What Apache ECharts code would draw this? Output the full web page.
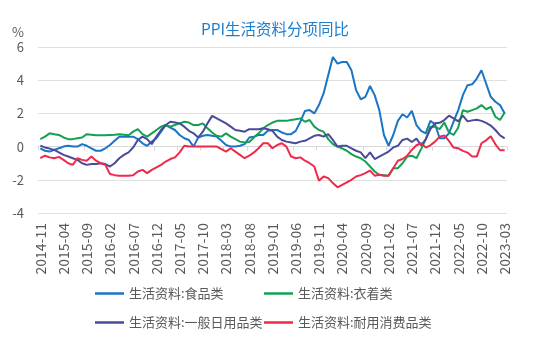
<!DOCTYPE html>
<html>
<head>
<meta charset="utf-8">
<script src="https://cdn.jsdelivr.net/npm/echarts@6/dist/echarts.min.js"></script>
<style>
html,body{margin:0;padding:0;background:#fff;}
#c{width:550px;height:343px;}
</style>
</head>
<body>
<div id="c"></div>
<script>
const categories = [
'2014-11','2014-12',
'2015-01','2015-02','2015-03','2015-04','2015-05','2015-06','2015-07','2015-08','2015-09','2015-10','2015-11','2015-12',
'2016-01','2016-02','2016-03','2016-04','2016-05','2016-06','2016-07','2016-08','2016-09','2016-10','2016-11','2016-12',
'2017-01','2017-02','2017-03','2017-04','2017-05','2017-06','2017-07','2017-08','2017-09','2017-10','2017-11','2017-12',
'2018-01','2018-02','2018-03','2018-04','2018-05','2018-06','2018-07','2018-08','2018-09','2018-10','2018-11','2018-12',
'2019-01','2019-02','2019-03','2019-04','2019-05','2019-06','2019-07','2019-08','2019-09','2019-10','2019-11','2019-12',
'2020-01','2020-02','2020-03','2020-04','2020-05','2020-06','2020-07','2020-08','2020-09','2020-10','2020-11','2020-12',
'2021-01','2021-02','2021-03','2021-04','2021-05','2021-06','2021-07','2021-08','2021-09','2021-10','2021-11','2021-12',
'2022-01','2022-02','2022-03','2022-04','2022-05','2022-06','2022-07','2022-08','2022-09','2022-10','2022-11','2022-12',
'2023-01','2023-02','2023-03'
];

const seriesNames = ['生活资料:食品类','生活资料:衣着类','生活资料:一般日用品类','生活资料:耐用消费品类'];

const food = [
-0.1,-0.25,-0.3,-0.2,-0.1,0.0,0.05,0.0,0.0,0.15,
0.05,-0.1,-0.25,-0.25,-0.1,0.1,0.35,0.6,0.6,0.6,
0.6,0.45,0.2,0.05,0.3,0.5,0.9,1.3,1.15,1.0,
0.7,0.5,0.4,0.0,0.55,0.65,0.7,0.65,0.6,0.35,
0.1,0.0,0.0,0.05,0.15,0.55,0.6,0.7,0.7,0.95,
1.0,1.0,0.85,0.75,0.75,0.95,1.5,2.15,2.2,2.0,
2.5,3.2,4.3,5.4,5.0,5.1,5.1,4.6,3.4,2.85,
3.0,3.65,3.1,2.2,0.7,0.05,0.7,1.55,1.95,1.75,
2.15,1.3,0.95,0.8,1.55,1.35,0.5,0.5,0.8,1.5,
2.2,3.1,3.7,3.75,4.1,4.6,3.8,3.0,2.7,2.5,
2.0
];

const clothing = [
0.45,0.6,0.8,0.75,0.7,0.55,0.45,0.45,0.5,0.55,
0.75,0.72,0.68,0.68,0.68,0.7,0.72,0.75,0.72,0.68,
0.9,1.05,0.75,0.6,0.8,1.0,1.2,1.3,1.2,1.3,
1.4,1.5,1.45,1.3,1.3,1.4,1.1,0.85,0.65,0.6,
0.8,0.6,0.45,0.3,0.25,0.28,0.55,0.8,1.1,1.3,
1.45,1.55,1.55,1.55,1.6,1.65,1.7,1.5,1.6,1.2,
1.0,0.9,0.45,0.15,0.0,-0.1,-0.25,-0.45,-0.6,-0.7,
-0.9,-1.2,-1.5,-1.7,-1.72,-1.75,-1.3,-1.3,-1.0,-0.6,
-0.55,-0.7,-0.15,0.45,1.2,1.2,1.05,1.45,0.85,0.7,
1.15,2.2,2.1,2.2,2.3,2.5,2.25,2.4,1.8,1.6,
2.05
];

const daily = [
0.05,-0.05,-0.12,-0.2,-0.35,-0.5,-0.6,-0.7,-0.8,-1.0,
-1.1,-1.05,-1.05,-1.0,-1.05,-1.2,-1.0,-0.7,-0.5,-0.35,
-0.05,0.4,0.6,0.45,0.15,0.6,1.0,1.3,1.5,1.45,
1.4,1.2,0.95,0.8,0.55,0.9,1.4,1.85,1.7,1.55,
1.4,1.2,1.0,0.95,0.9,1.05,1.05,1.05,1.1,1.05,
0.95,0.6,0.4,0.3,0.25,0.2,0.3,0.35,0.5,0.65,
0.7,0.6,0.75,0.4,0.0,0.05,0.05,-0.1,-0.25,-0.35,
-0.7,-0.35,-0.75,-0.6,-0.45,-0.3,-0.05,0.05,0.4,0.48,
0.28,0.48,0.08,0.43,1.05,1.4,1.43,1.6,1.86,1.7,
1.52,1.86,1.52,1.58,1.62,1.55,1.43,1.27,1.0,0.67,
0.5
];

const durable = [
-0.7,-0.55,-0.65,-0.7,-0.62,-0.8,-1.0,-1.1,-0.7,-0.8,
-0.85,-0.6,-0.85,-1.0,-1.1,-1.65,-1.72,-1.75,-1.75,-1.75,
-1.73,-1.5,-1.4,-1.6,-1.4,-1.25,-1.1,-0.9,-0.75,-0.65,
-0.35,0.05,0.0,0.0,0.0,0.0,0.0,0.0,0.0,-0.15,
-0.3,-0.1,-0.3,-0.5,-0.7,-0.55,-0.35,-0.1,0.2,0.2,
-0.1,0.1,0.2,0.0,-0.6,-0.7,-0.65,-0.85,-1.0,-1.2,
-2.05,-1.8,-1.9,-2.2,-2.45,-2.3,-2.15,-2.0,-1.8,-1.72,
-1.6,-1.45,-1.75,-1.7,-1.75,-1.75,-1.3,-0.85,-0.75,-0.55,
-0.2,0.08,0.2,-0.06,0.08,0.3,0.6,0.67,0.34,-0.06,
-0.1,-0.26,-0.36,-0.6,-0.6,0.2,0.38,0.63,0.14,-0.22,
-0.22
];

const yTicks = {min: -4, max: 6, interval: 2};
const colors = ['#1A75C4', '#14A050', '#4A4A9A', '#F0284C'];
const values = [food, clothing, daily, durable];

const FONT = "'Noto Sans CJK SC', 'Noto Sans', sans-serif";
const chart = echarts.init(document.getElementById('c'), null, {renderer: 'canvas'});

const legendPos = [
  {left: 95, top: 287, w: 29},
  {left: 264, top: 287, w: 29},
  {left: 95, top: 316, w: 29},
  {left: 264, top: 316, w: 29}
];

const option = {
  animation: false,
  textStyle: {fontFamily: FONT},
  title: {
    text: 'PPI生活资料分项同比',
    left: 'center',
    top: 16,
    textStyle: {color: '#1B7ECF', fontSize: 15.5, fontWeight: 'normal', fontFamily: FONT}
  },
  legend: seriesNames.map((n, i) => ({
    data: [n],
    left: legendPos[i].left,
    top: legendPos[i].top,
    icon: 'rect',
    itemWidth: legendPos[i].w,
    itemHeight: 2.5,
    padding: 0,
    selectedMode: false,
    textStyle: {color: '#595959', fontSize: 13, fontFamily: FONT}
  })),
  grid: {left: 38, right: 43, top: 47, bottom: 130, containLabel: false},
  xAxis: [
    {
      type: 'category',
      data: categories,
      boundaryGap: true,
      axisLine: {onZero: true, lineStyle: {color: '#d9d9d9', width: 1}},
      axisTick: {show: true, interval: 4, length: 4, lineStyle: {color: '#d9d9d9'}},
      axisLabel: {show: false},
      splitLine: {show: false}
    },
    {
      type: 'category',
      data: categories,
      position: 'bottom',
      boundaryGap: true,
      axisLine: {show: false, onZero: false},
      axisTick: {show: false},
      axisLabel: {interval: 4, rotate: 90, margin: 10, fontSize: 14, color: '#595959', fontFamily: FONT},
      splitLine: {show: false}
    }
  ],
  yAxis: {
    type: 'value',
    min: yTicks.min,
    max: yTicks.max,
    interval: yTicks.interval,
    name: '%',
    nameLocation: 'end',
    nameGap: 8,
    nameTextStyle: {color: '#595959', fontSize: 13, align: 'right', padding: [0, 14, 0, 0], fontFamily: FONT},
    axisLine: {show: false},
    axisTick: {show: false},
    axisLabel: {color: '#595959', fontSize: 13, margin: 14, fontFamily: FONT},
    splitLine: {lineStyle: {color: '#e0e0e0', width: 1}}
  },
  series: seriesNames.map((n, i) => ({
    name: n,
    type: 'line',
    xAxisIndex: 0,
    data: values[i],
    symbol: 'none',
    smooth: false,
    lineStyle: {width: 2, color: colors[i]},
    itemStyle: {color: colors[i]}
  }))
};
chart.setOption(option);
</script>
</body>
</html>
